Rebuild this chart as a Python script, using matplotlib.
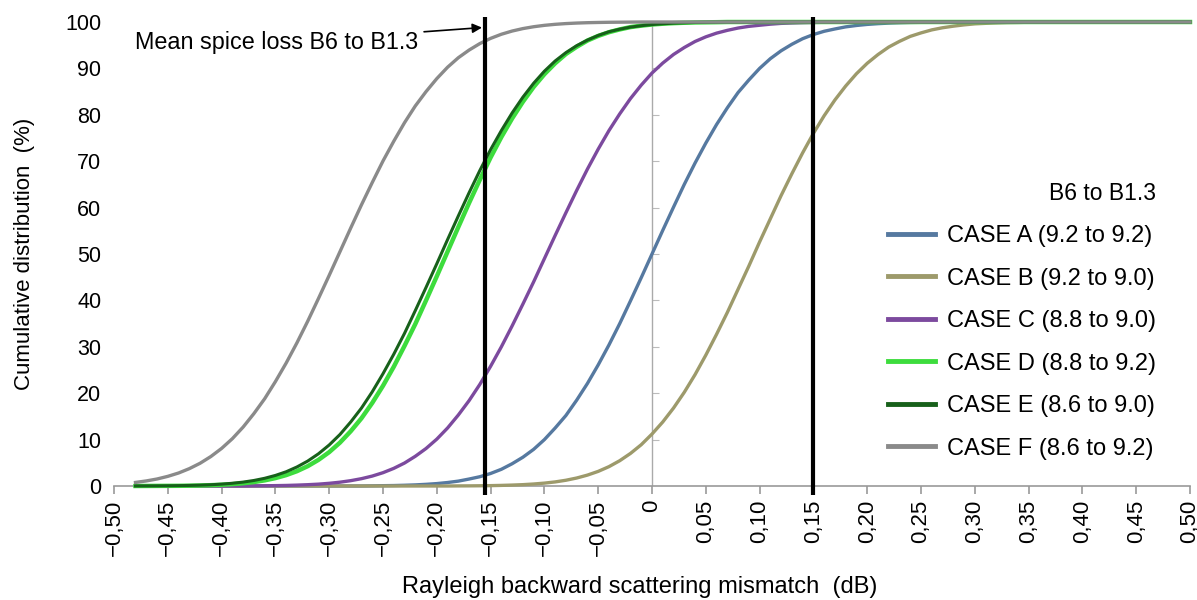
import numpy as np
import matplotlib
matplotlib.use("Agg")
import matplotlib.pyplot as plt

plt.rcParams['font.family'] = ['Liberation Sans', 'DejaVu Sans']

# mismatch grid (dB), -0.48 .. 0.50 in 0.01 steps, shared by all cases
x = np.round(np.linspace(-0.48, 0.50, 99), 2)

# cumulative distribution (%), 10 values per row
case_a = [0, 0, 0, 0, 0, 0, 0, 0, 0, 0,
          0, 0, 0, 0, 0, 0, 0, 0, 0, 0,
          0, 0, 0.03, 0.07, 0.1, 0.16, 0.24, 0.36, 0.52, 0.75,
          1.05, 1.5, 2.0, 2.7, 3.6, 4.8, 6.2, 7.9, 10.0, 12.5,
          15.2, 18.5, 22.1, 26.1, 30.4, 35.0, 39.9, 44.9, 50.0, 55.1,
          60.1, 65.0, 69.6, 73.9, 77.9, 81.5, 84.8, 87.5, 90.0, 92.1,
          93.8, 95.2, 96.4, 97.3, 98.0, 98.5, 98.95, 99.25, 99.48, 99.64,
          99.76, 99.84, 99.9, 99.93, 99.97, 100, 100, 100, 100, 100,
          100, 100, 100, 100, 100, 100, 100, 100, 100, 100,
          100, 100, 100, 100, 100, 100, 100, 100, 100]
case_b = [0, 0, 0, 0, 0, 0, 0, 0, 0, 0,
          0, 0, 0, 0, 0, 0, 0, 0, 0, 0,
          0, 0, 0, 0, 0, 0, 0, 0, 0, 0,
          0.02, 0.03, 0.05, 0.08, 0.13, 0.2, 0.29, 0.43, 0.62, 0.88,
          1.24, 1.72, 2.35, 3.15, 4.17, 5.45, 7.02, 8.9, 11.2, 13.8,
          16.8, 20.2, 24.0, 28.2, 32.7, 37.4, 42.4, 47.4, 52.6, 57.6,
          62.6, 67.3, 71.8, 76.0, 79.8, 83.2, 86.2, 88.85, 91.1, 92.98,
          94.6, 95.83, 96.9, 97.65, 98.3, 98.76, 99.1, 99.38, 99.6, 99.71,
          99.8, 99.87, 99.9, 99.95, 99.97, 100, 100, 100, 100, 100,
          100, 100, 100, 100, 100, 100, 100, 100, 100]
case_c = [0, 0, 0, 0, 0, 0, 0, 0, 0, 0,
          0, 0.03, 0.05, 0.08, 0.12, 0.19, 0.28, 0.40, 0.58, 0.82,
          1.15, 1.58, 2.14, 2.87, 3.8, 4.95, 6.4, 8.08, 10.1, 12.5,
          15.3, 18.4, 21.9, 25.8, 30.0, 34.5, 39.2, 44.0, 49.0, 54.0,
          58.9, 63.7, 68.3, 72.6, 76.6, 80.2, 83.5, 86.4, 89.0, 91.15,
          93.0, 94.5, 95.8, 96.8, 97.6, 98.2, 98.7, 99.06, 99.3, 99.53,
          99.7, 99.78, 99.85, 99.9, 99.94, 99.96, 99.98, 100, 100, 100,
          100, 100, 100, 100, 100, 100, 100, 100, 100, 100,
          100, 100, 100, 100, 100, 100, 100, 100, 100, 100,
          100, 100, 100, 100, 100, 100, 100, 100, 100]
case_d = [0, 0.01, 0.02, 0.03, 0.04, 0.07, 0.11, 0.18, 0.27, 0.40,
          0.59, 0.85, 1.21, 1.70, 2.35, 3.19, 4.27, 5.63, 7.3, 9.35,
          11.8, 14.6, 17.9, 21.6, 25.7, 30.2, 34.9, 40.0, 45.2, 50.5,
          55.8, 61.0, 66.0, 70.8, 75.2, 79.2, 82.8, 86.0, 88.75, 91.1,
          93.1, 94.65, 96.0, 97.0, 97.8, 98.4, 98.9, 99.21, 99.46, 99.63,
          99.75, 99.84, 99.9, 99.93, 99.96, 100, 100, 100, 100, 100,
          100, 100, 100, 100, 100, 100, 100, 100, 100, 100,
          100, 100, 100, 100, 100, 100, 100, 100, 100, 100,
          100, 100, 100, 100, 100, 100, 100, 100, 100, 100,
          100, 100, 100, 100, 100, 100, 100, 100, 100]
case_e = [0.01, 0.02, 0.03, 0.05, 0.08, 0.12, 0.18, 0.27, 0.40, 0.59,
          0.84, 1.19, 1.66, 2.28, 3.07, 4.1, 5.37, 6.94, 8.84, 11.1,
          13.8, 16.8, 20.3, 24.2, 28.4, 32.9, 37.8, 42.8, 47.9, 53.1,
          58.2, 63.2, 68.0, 72.5, 76.6, 80.4, 83.8, 86.8, 89.4, 91.6,
          93.4, 94.9, 96.1, 97.1, 97.9, 98.45, 98.9, 99.2, 99.45, 99.62,
          99.75, 99.83, 99.9, 99.93, 99.96, 100, 100, 100, 100, 100,
          100, 100, 100, 100, 100, 100, 100, 100, 100, 100,
          100, 100, 100, 100, 100, 100, 100, 100, 100, 100,
          100, 100, 100, 100, 100, 100, 100, 100, 100, 100,
          100, 100, 100, 100, 100, 100, 100, 100, 100]
case_f = [0.77, 1.09, 1.51, 2.08, 2.8, 3.74, 4.9, 6.35, 8.1, 10.2,
          12.7, 15.6, 18.8, 22.5, 26.5, 30.85, 35.5, 40.4, 45.4, 50.5,
          55.6, 60.6, 65.4, 70.05, 74.3, 78.3, 81.9, 85.0, 87.8, 90.25,
          92.3, 93.95, 95.35, 96.47, 97.36, 98.05, 98.58, 98.98, 99.28, 99.5,
          99.66, 99.77, 99.85, 99.9, 99.94, 99.96, 99.98, 100, 100, 100,
          100, 100, 100, 100, 100, 100, 100, 100, 100, 100,
          100, 100, 100, 100, 100, 100, 100, 100, 100, 100,
          100, 100, 100, 100, 100, 100, 100, 100, 100, 100,
          100, 100, 100, 100, 100, 100, 100, 100, 100, 100,
          100, 100, 100, 100, 100, 100, 100, 100, 100]

labels = ["CASE A (9.2 to 9.2)", "CASE B (9.2 to 9.0)", "CASE C (8.8 to 9.0)",
          "CASE D (8.8 to 9.2)", "CASE E (8.6 to 9.0)", "CASE F (8.6 to 9.2)"]
colors = ["#5679a0", "#9d9a6b", "#7c4a9e", "#3ddc3d", "#17601a", "#8a8a8a"]
widths = [2.4, 2.4, 2.4, 3.2, 2.2, 2.4]
series = [case_a, case_b, case_c, case_d, case_e, case_f]

limit_lines = [-0.155, 0.15]   # mean splice loss markers
xticks = [-0.50, -0.45, -0.40, -0.35, -0.30, -0.25, -0.20, -0.15, -0.10, -0.05,
          0.0, 0.05, 0.10, 0.15, 0.20, 0.25, 0.30, 0.35, 0.40, 0.45, 0.50]
yticks = [0, 10, 20, 30, 40, 50, 60, 70, 80, 90, 100]


def fmt(v):
    if abs(v) < 1e-9:
        return "0"
    return f"{v:.2f}".replace(".", ",").replace("-", "\u2212")


fig = plt.figure(figsize=(11.97, 6), dpi=100)
ax = fig.add_axes([114 / 1197, 114 / 600, 1076 / 1197, 464 / 600])

# gray zero line with small ticks on its left side
ax.axvline(0, color='#aaaaaa', lw=1, zorder=1)
zero = ax.secondary_yaxis(0.5)
zero.set_yticks(yticks[1:-1])
zero.set_yticklabels([])
zero.tick_params(axis='y', direction='out', length=5, color='#bbbbbb')
for s in zero.spines.values():
    s.set_visible(False)

for ys, c, w, lab in zip(series, colors, widths, labels):
    ax.plot(x, ys, color=c, lw=w, label=lab, clip_on=False, zorder=3)

for xv in limit_lines:
    ax.vlines(xv, -2, 101, color='black', lw=3, clip_on=False, zorder=5)

ax.set_xlim(-0.5, 0.5)
ax.set_ylim(0, 100)

for s in ['top', 'right', 'left']:
    ax.spines[s].set_visible(False)
ax.spines['bottom'].set_color('#999999')
ax.spines['bottom'].set_linewidth(1.2)

ax.set_xticks(xticks)
ax.set_xticklabels([fmt(v) for v in xticks], rotation=90, fontsize=16)
ax.tick_params(axis='x', direction='out', length=6, width=1.2, color='#999999', pad=4)
ax.set_yticks(yticks)
ax.set_yticklabels([str(v) for v in yticks], fontsize=15.5)
ax.tick_params(axis='y', length=0, pad=9)

ax.set_xlabel("Rayleigh backward scattering mismatch  (dB)", fontsize=17)
ax.xaxis.set_label_coords(0.489, -0.195)
ax.set_ylabel("Cumulative distribution  (%)", fontsize=16, labelpad=22)

ax.annotate("Mean spice loss B6 to B1.3", xy=(-0.158, 98.8), xytext=(-0.217, 95.6),
            ha='right', va='center', fontsize=16.8,
            arrowprops=dict(arrowstyle='-|>', color='black', lw=1.2, mutation_scale=14,
                            shrinkA=2, shrinkB=0))

leg = ax.legend(title="B6 to B1.3", loc='lower right', bbox_to_anchor=(1177 / 1197, 119 / 600),
                bbox_transform=fig.transFigure, frameon=False, fontsize=17,
                title_fontsize=16.5, handlelength=2.0, handletextpad=0.5,
                labelspacing=0.87, alignment='right')
for h in leg.get_lines():
    h.set_linewidth(3.5)

fig.savefig("out.png", dpi=100)
